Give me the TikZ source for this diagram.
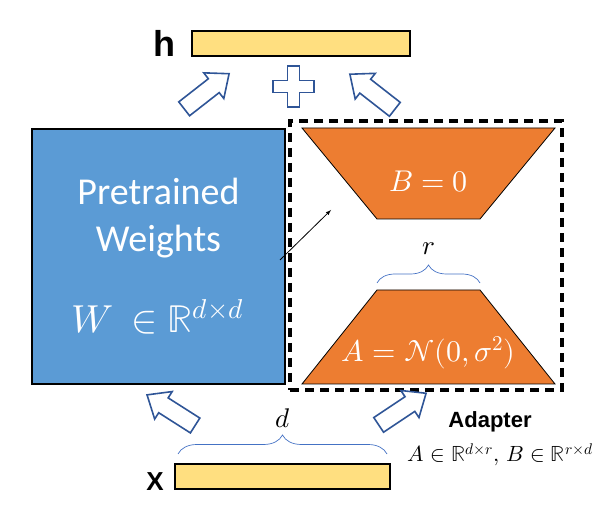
\documentclass[tikz,border=0pt]{standalone}
\usepackage{fontspec}
\usepackage{unicode-math}
\setmathfont{Latin Modern Math}
\newfontfamily\calibrifont{Carlito}
\newfontfamily\arialfont{Liberation Sans}
\usetikzlibrary{positioning,shapes.arrows,decorations.pathreplacing}
\definecolor{wblue}{HTML}{5B9BD5}
\definecolor{aorange}{HTML}{ED7D31}
\definecolor{hyellow}{HTML}{FFDF80}
\definecolor{arrowblue}{HTML}{2F5597}
\definecolor{braceblue}{HTML}{4472C4}
\tikzset{vecbar/.style={draw=black,line width=1.2pt,fill=hyellow,minimum width=218pt,minimum height=25pt,inner sep=0pt},
         weights/.style={draw=black,line width=1.2pt,fill=wblue,minimum width=253pt,minimum height=255pt,inner sep=0pt},
         lowrank/.style={draw=black,line width=0.8pt,fill=aorange},
         flow/.style={single arrow,draw=arrowblue,line width=1.6pt,fill=white,minimum height=57pt,inner xsep=0pt,
                      inner ysep=8pt,single arrow head extend=7.5pt,single arrow tip angle=80},
         plusmark/.style={draw=arrowblue,line width=1.6pt,fill=white},
         adapterframe/.style={draw=black,line width=3.4pt,dash pattern=on 9pt off 6pt,minimum width=272pt,minimum height=269pt},
         dimbrace/.style={decorate,decoration={brace,amplitude=19pt},draw=braceblue,line width=0.7pt},
         whitetext/.style={text=white,font=\calibrifont\fontsize{38}{46}\selectfont,inner sep=0pt},
         whitemath/.style={text=white,inner sep=0pt},
         bigsans/.style={font=\arialfont\bfseries\fontsize{36}{42}\selectfont,inner sep=0pt},
         line/.style={-latex}
}

\begin{document}
\begin{tikzpicture}[x=1pt,y=-1pt]
  \useasboundingbox (0,0) rectangle (600,518);
  % output and input
  \node[vecbar] (h) at (301,43.5) {};
  \node[bigsans,anchor=base] (hlab) at (164.5,57) {h};
  \node[vecbar,minimum width=215pt] (x) at (282.5,476.5) {};
  \node[bigsans,font=\arialfont\bfseries\fontsize{26}{30}\selectfont,anchor=base] (xlab) at (155,490) {X};

  % frozen weights
  \node[weights] (w) at (158.5,256.5) {};
  \node[whitetext,anchor=base] (pt) at (158.5,205) {Pretrained};
  \node[whitetext,anchor=base] (wt) at (158.5,252) {Weights};
  \node[whitemath,anchor=base] (wm) at (158,333) {\fontsize{39}{46}\selectfont$W\,\in\mathbb{R}^{d\times d}$};

  % low rank part
  \node[adapterframe] (adapter) at (426,255.5) {};
  \draw[lowrank] (302,128) -- (555,128) -- (480,219) -- (377,219) -- cycle;
  \draw[lowrank] (377,290) -- (480,290) -- (555,384) -- (302,384) -- cycle;
  \node[whitemath] (blab) at (428.5,182) {\fontsize{30}{36}\selectfont$B=0$};
  \node[whitemath] (alab) at (428.5,353) {\fontsize{30}{36}\selectfont$A=\mathcal{N}(0,\sigma^2)$};

  % braces
  \coordinate (rl) at (377,283);
  \coordinate (rr) at (480,283);
  \draw[dimbrace,decoration={amplitude=18pt}] (rl) -- (rr);
  \node[anchor=base,inner sep=0pt] (rlab) at (428.5,255) {\fontsize{27}{30}\selectfont$r$};
  \coordinate (dl) at (178,454);
  \coordinate (dr) at (387,454);
  \draw[dimbrace] (dl) -- (dr);
  \node[anchor=base,inner sep=0pt] (dlab) at (282.5,428) {\fontsize{27}{30}\selectfont$d$};

  % block arrows
  \node[flow,rotate=38] (f1) at (202.5,94.5) {};
  \node[flow,rotate=142] (f2) at (376.5,95) {};
  \node[flow,rotate=147.5] (f3) at (175.5,413) {};
  \node[flow,rotate=33.7] (f4) at (398,412) {};
  \coordinate (plus) at (293.5,86.5);
  \draw[plusmark,shift={(plus)}] (-6,-20.5) -- (6,-20.5) -- (6,-6) -- (20.5,-6) -- (20.5,6) -- (6,6) -- (6,20.5)
       -- (-6,20.5) -- (-6,6) -- (-20.5,6) -- (-20.5,-6) -- (-6,-6) -- cycle;

  % thin pointer
  \coordinate (ps) at (280,260);
  \coordinate (pe) at (331,210);
  \draw[line,line width=0.8pt] (ps) -- (pe);

  \node[bigsans,font=\arialfont\bfseries\fontsize{22}{26}\selectfont,anchor=base] (adlab) at (490,428) {Adapter};
  \node[anchor=base,inner sep=0pt] (dims) at (500.5,462) {\fontsize{22}{26}\selectfont$A\in\mathbb{R}^{d\times r},\,B\in\mathbb{R}^{r\times d}$};
\end{tikzpicture}
\end{document}
